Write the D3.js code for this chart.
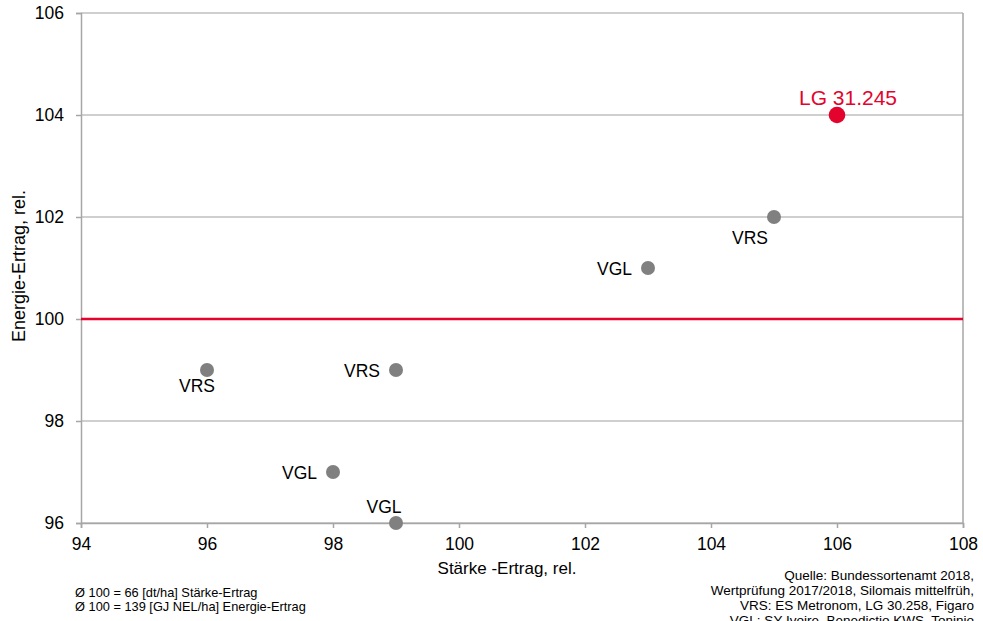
<!DOCTYPE html>
<html>
<head>
<meta charset="utf-8">
<script src="https://cdn.jsdelivr.net/npm/d3@7"></script>
<style>
  html, body { margin: 0; padding: 0; background: #fff; }
  svg { display: block; font-family: "Liberation Sans", Arial, sans-serif; }
</style>
</head>
<body>
<svg id="chart" width="983" height="621"></svg>
<script>
// ---- data ----
const names      = ["VRS", "VRS", "VGL", "VGL", "VGL", "VRS", "LG 31.245"];
const starke     = [96, 99, 98, 99, 103, 105, 106];
const energie    = [99, 99, 97, 96, 101, 102, 104];
const highlight  = [false, false, false, false, false, false, true];
const labelPos   = ["below", "left", "left", "aboveLeft", "left", "belowLeft", "above"];
const xTicks     = [94, 96, 98, 100, 102, 104, 106, 108];
const yTicks     = [96, 98, 100, 102, 104, 106];
const refLine    = 100;
const xTitle     = "Stärke -Ertrag, rel.";
const yTitle     = "Energie-Ertrag, rel.";
const noteLeft   = ["Ø 100 = 66 [dt/ha] Stärke-Ertrag", "Ø 100 = 139 [GJ NEL/ha] Energie-Ertrag"];
const noteRight  = ["Quelle: Bundessortenamt 2018,", "Wertprüfung 2017/2018, Silomais mittelfrüh,", "VRS: ES Metronom, LG 30.258, Figaro", "VGL: SY Ivoire, Benedictio KWS, Toninio"];

// ---- layout ----
const W = 983, H = 621;
const m = { left: 81, right: 20, top: 13, bottom: 98 };
const RED = "#e3032d", GREY_DOT = "#808080", GRID = "#bfbfbf", AXIS = "#a6a6a6";

const svg = d3.select("#chart");
const x = d3.scaleLinear().domain([94, 108]).range([m.left, W - m.right]);
const y = d3.scaleLinear().domain([96, 106]).range([H - m.bottom, m.top]);

// gridlines
svg.append("g").selectAll("line").data(yTicks).join("line")
  .attr("x1", x(94)).attr("x2", x(108))
  .attr("y1", d => y(d)).attr("y2", d => y(d))
  .attr("stroke", GRID).attr("stroke-width", 1.5);

// right border
svg.append("line")
  .attr("x1", x(108)).attr("x2", x(108)).attr("y1", y(96)).attr("y2", y(106))
  .attr("stroke", AXIS).attr("stroke-width", 1.5);

// y axis
const gy = svg.append("g").attr("transform", `translate(${x(94)},0)`)
  .call(d3.axisLeft(y).tickValues(yTicks).tickSize(5).tickPadding(12).tickFormat(d3.format("d")));
// x axis
const gx = svg.append("g").attr("transform", `translate(0,${y(96)})`)
  .call(d3.axisBottom(x).tickValues(xTicks).tickSize(5).tickPadding(10).tickFormat(d3.format("d")));

[gx, gy].forEach(g => {
  g.select(".domain").attr("stroke", AXIS).attr("stroke-width", 1.5);
  g.selectAll(".tick line").attr("stroke", AXIS).attr("stroke-width", 1.5);
  g.selectAll(".tick text").attr("fill", "#000").style("font-size", "17.5px")
    .style("font-family", "'Liberation Sans', Arial, sans-serif");
});

// reference line
svg.append("line")
  .attr("x1", x(94)).attr("x2", x(108)).attr("y1", y(refLine)).attr("y2", y(refLine))
  .attr("stroke", RED).attr("stroke-width", 2.5);

// points
const pts = names.map((n, i) => ({ n, sx: starke[i], ey: energie[i], hi: highlight[i], pos: labelPos[i] }));
svg.append("g").selectAll("circle").data(pts).join("circle")
  .attr("cx", d => x(d.sx)).attr("cy", d => y(d.ey))
  .attr("r", d => d.hi ? 8.3 : 7)
  .attr("fill", d => d.hi ? RED : GREY_DOT);

const off = {
  below:     { dx: -10, dy: 22, anchor: "middle" },
  belowLeft: { dx: -24, dy: 27, anchor: "middle" },
  left:      { dx: -16, dy: 7,  anchor: "end" },
  aboveLeft: { dx: -12, dy: -10, anchor: "middle" },
  above:     { dx: 11,  dy: -10, anchor: "middle" }
};
svg.append("g").selectAll("text").data(pts).join("text")
  .attr("x", d => x(d.sx) + off[d.pos].dx)
  .attr("y", d => y(d.ey) + off[d.pos].dy)
  .attr("text-anchor", d => off[d.pos].anchor)
  .attr("fill", d => d.hi ? RED : "#000")
  .style("font-size", d => d.hi ? "21px" : "17.5px")
  .text(d => d.n);

// axis titles
svg.append("text").attr("x", 507).attr("y", 574).attr("text-anchor", "middle")
  .style("font-size", "17px").text(xTitle);
svg.append("text").attr("transform", "translate(25,266) rotate(-90)").attr("text-anchor", "middle")
  .style("font-size", "18px").text(yTitle);

// notes
svg.append("g").selectAll("text").data(noteLeft).join("text")
  .attr("x", 75).attr("y", (d, i) => 597 + i * 14)
  .style("font-size", "12.8px").text(d => d);
svg.append("g").selectAll("text").data(noteRight).join("text")
  .attr("x", 974).attr("y", (d, i) => 580 + i * 15).attr("text-anchor", "end")
  .style("font-size", "13.5px").text(d => d);
</script>
</body>
</html>
